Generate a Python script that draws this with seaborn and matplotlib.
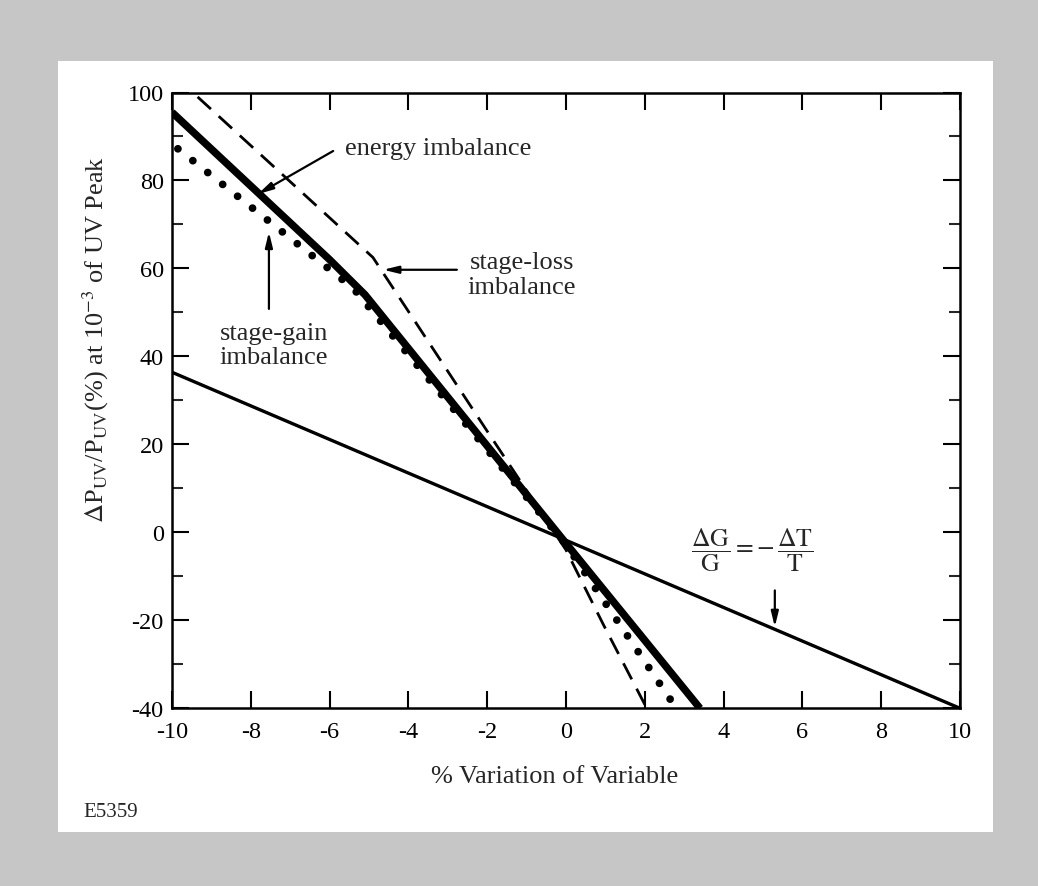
import matplotlib
matplotlib.use("Agg")
import matplotlib.pyplot as plt
from matplotlib.patches import Rectangle
import pandas as pd
import seaborn as sns

# Change of UV peak power (in %) versus percent variation of each parameter
energy_x = [-10, -6, -5.1, 0, 3.4]
energy_y = [95.5, 62, 54, -2.5, -40]

gain_x = [-9.85, -5.4, 0, 2.8]
gain_y = [87.2, 55.5, -2.8, -40]

loss_x = [-9.35, -4.9, -2, 0, 0.95, 2.05]
loss_y = [99, 62.5, 23, -4, -21, -40]

temp_x = [-10, 10]
temp_y = [36.4, -40]

x_ticks = [-10, -8, -6, -4, -2, 0, 2, 4, 6, 8, 10]
y_ticks = [-40, -20, 0, 20, 40, 60, 80, 100]
y_minor = [-30, -10, 10, 30, 50, 70, 90]

sns.set_style("ticks")
plt.rcParams["font.family"] = ["Liberation Serif", "DejaVu Serif"]
plt.rcParams["mathtext.fontset"] = "stix"
plt.rcParams["axes.unicode_minus"] = False

W, H = 1038, 887
fig = plt.figure(figsize=(W / 100, H / 100), dpi=100)
fig.patch.set_facecolor("#c6c6c6")
fig.add_artist(Rectangle((58 / W, 1 - 833 / H), (993 - 58) / W, (833 - 62) / H,
                         transform=fig.transFigure, facecolor="white",
                         edgecolor="none", zorder=-10))

ax = fig.add_axes([172 / W, 1 - 709.3 / H, (960 - 172) / W, (709.3 - 93.5) / H])
ax.set_facecolor("white")

frames = {
    "energy": pd.DataFrame({"x": energy_x, "y": energy_y}),
    "gain": pd.DataFrame({"x": gain_x, "y": gain_y}),
    "loss": pd.DataFrame({"x": loss_x, "y": loss_y}),
    "temp": pd.DataFrame({"x": temp_x, "y": temp_y}),
}

sns.lineplot(data=frames["temp"], x="x", y="y", ax=ax, color="black",
             lw=2.4, sort=False, estimator=None)
sns.lineplot(data=frames["loss"], x="x", y="y", ax=ax, color="black",
             lw=2.0, linestyle=(0, (6.5, 3.8)), sort=False, estimator=None)
sns.lineplot(data=frames["gain"], x="x", y="y", ax=ax, color="black",
             lw=5.6, linestyle=(0, (0.001, 2.45)), dash_capstyle="round",
             sort=False, estimator=None)
sns.lineplot(data=frames["energy"], x="x", y="y", ax=ax, color="black",
             lw=5.4, sort=False, estimator=None, solid_capstyle="butt")

ax.set_xlim(-10, 10)
ax.set_ylim(-40, 100)
ax.set_xticks(x_ticks)
ax.set_xticklabels([str(v) for v in x_ticks])
ax.set_yticks(y_ticks)
ax.set_yticklabels([str(v) for v in y_ticks])
ax.set_yticks(y_minor, minor=True)

for s in ax.spines.values():
    s.set_linewidth(1.8)
    s.set_color("black")
    s.set_visible(True)

ax.tick_params(axis="both", which="major", direction="in", length=12.5,
               width=1.5, top=True, right=True, labelsize=17.5, colors="black")
ax.tick_params(axis="y", which="minor", direction="in", length=8,
               width=1.5, left=True, right=True)
ax.tick_params(axis="x", which="major", pad=9)
ax.tick_params(axis="y", which="major", pad=6)

ax.set_xlabel("% Variation of Variable", fontsize=19)
ax.xaxis.set_label_coords(0.486, -0.092)
ax.set_ylabel(r"$\Delta$P$_{\mathrm{UV}}$/P$_{\mathrm{UV}}$(%) at 10$^{-3}$ of UV Peak",
              fontsize=19)
ax.yaxis.set_label_coords(-0.077, 0.6)

arrow = dict(arrowstyle="-|>,head_length=0.9,head_width=0.22", color="black",
             lw=1.6, shrinkA=0, shrinkB=0)

ax.annotate("", xy=(-7.82, 76.9), xytext=(-5.91, 86.7), arrowprops=arrow)
ax.text(-5.62, 87.3, "energy imbalance", fontsize=19, ha="left", va="center")

ax.annotate("", xy=(-7.54, 68.3), xytext=(-7.54, 50.8), arrowprops=arrow)
ax.text(-7.41, 42.6, "stage-gain\nimbalance", fontsize=19, ha="center",
        va="center", linespacing=1.15)

ax.annotate("", xy=(-4.64, 59.7), xytext=(-2.77, 59.7), arrowprops=arrow)
ax.text(-1.12, 58.6, "stage-loss\nimbalance", fontsize=19, ha="center",
        va="center", linespacing=1.15)

ax.annotate("", xy=(5.30, -21.5), xytext=(5.30, -13.2), arrowprops=arrow)
ax.text(4.72, -4.0, r"$\dfrac{\Delta \mathrm{G}}{\mathrm{G}} = -\,\dfrac{\Delta \mathrm{T}}{\mathrm{T}}$",
        fontsize=18.5, ha="center", va="center")

fig.text(83 / W, 1 - 813 / H, "E5359", fontsize=15, ha="left", va="center")

fig.savefig("out.png", dpi=100, facecolor=fig.get_facecolor())
